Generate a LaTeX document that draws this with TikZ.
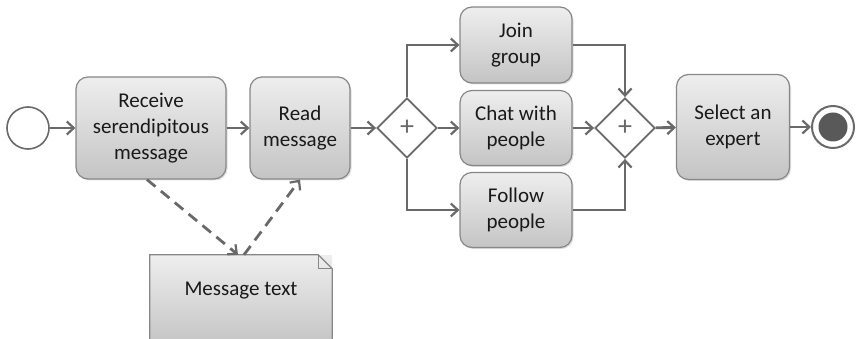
\documentclass[tikz,border=0pt]{standalone}
\usepackage{fontspec}
\setmainfont{Carlito}
\usetikzlibrary{arrows.meta,shapes.geometric,shadows}
\definecolor{flowline}{RGB}{105,105,105}
\definecolor{boxline}{RGB}{135,135,135}
\definecolor{boxtop}{RGB}{238,238,238}
\definecolor{boxbottom}{RGB}{196,196,196}
\definecolor{textdark}{RGB}{25,25,25}
\begin{document}
\begin{tikzpicture}[
                x=1pt, y=-1pt,
                task/.style={
                    draw=boxline,
                    line width=1.2pt,
                    top color=boxtop,
                    bottom color=boxbottom,
                    rectangle,
                    rounded corners=12pt,
                    align=center,
                    text=textdark,
                    drop shadow={opacity=0.25,shadow xshift=1.5pt,shadow yshift=-1.5pt},
                    font=\fontsize{21}{26}\selectfont
                },
                gateway/.style={
                    diamond,
                    draw=flowline,
                    line width=1.8pt,
                    fill=white,
                    minimum width=60pt,
                    minimum height=60pt,
                    inner sep=0pt,
                    text=flowline,
                    font=\fontsize{28}{28}\selectfont
                },
                event/.style={
                    circle,
                    draw=flowline,
                    line width=1.6pt,
                    fill=white,
                    minimum size=42pt,
                    inner sep=0pt
                },
                doc/.style={
                    rectangle,
                    top color=boxtop,
                    bottom color=boxbottom,
                    minimum width=182pt,
                    minimum height=90pt,
                    text depth=22pt,
                    text=textdark,
                    font=\fontsize{21}{26}\selectfont
                },
                arrow/.style={
                    -{Straight Barb[length=7pt,width=13pt,line width=2.2pt]},
                    line width=2.8pt,
                    draw=flowline
                },
                assoc/.style={
                    arrow,
                    dash pattern=on 11pt off 7pt
                }
            ]
    \useasboundingbox (0,0) rectangle (856,339);

    % events, tasks and gateways
    \node[event] (start) at (28,128) {};
    \node[task, minimum width=150pt, minimum height=102pt] (receive) at (151,128) {Receive\\serendipitous\\message};
    \node[task, minimum width=100pt, minimum height=102pt] (read) at (300,128) {Read\\message};
    \node[gateway] (split) at (407,128) {+};
    \node[task, minimum width=112pt, minimum height=76pt] (join) at (516,45) {Join\\group};
    \node[task, minimum width=112pt, minimum height=75pt] (chat) at (516,128) {Chat with\\people};
    \node[task, minimum width=112pt, minimum height=75pt] (follow) at (516,210) {Follow\\people};
    \node[gateway] (merge) at (625,128) {+};
    \node[task, minimum width=113pt, minimum height=105pt] (select) at (733,127) {Select an\\expert};
    \node[event, line width=2pt] (end) at (833,127) {};
    \fill[flowline!85!black] (end.center) circle (14.5pt);

    % data object
    \node[doc] (msg) at (241,300) {Message text};
    \draw[boxline, line width=1.2pt] (msg.south west) -- (msg.north west)
        -- ([xshift=-14pt]msg.north east) -- ([yshift=-14pt]msg.north east)
        -- (msg.south east);
    \draw[boxline, line width=1pt] ([xshift=-14pt]msg.north east)
        -- ([xshift=-14pt,yshift=-14pt]msg.north east) -- ([yshift=-14pt]msg.north east);

    % sequence flow
    \draw[arrow] (start) -- (receive);
    \draw[arrow] (receive) -- (read);
    \draw[arrow] (read) -- (split);
    \draw[arrow] (split) -- (chat);
    \draw[arrow] (split.north) |- (join.west);
    \draw[arrow] (split.south) |- (follow.west);
    \draw[arrow] (join.east) -| (merge.north);
    \draw[arrow] (chat) -- (merge);
    \draw[arrow] (follow.east) -| (merge.south);
    \draw[arrow] (merge) -- (select);
    \draw[arrow] (select) -- (end);

    % data associations
    \draw[assoc] ([xshift=-4pt]receive.south) -- ([xshift=-3pt]msg.north);
    \draw[assoc] ([xshift=3pt]msg.north) -- (read.south);
\end{tikzpicture}
\end{document}
